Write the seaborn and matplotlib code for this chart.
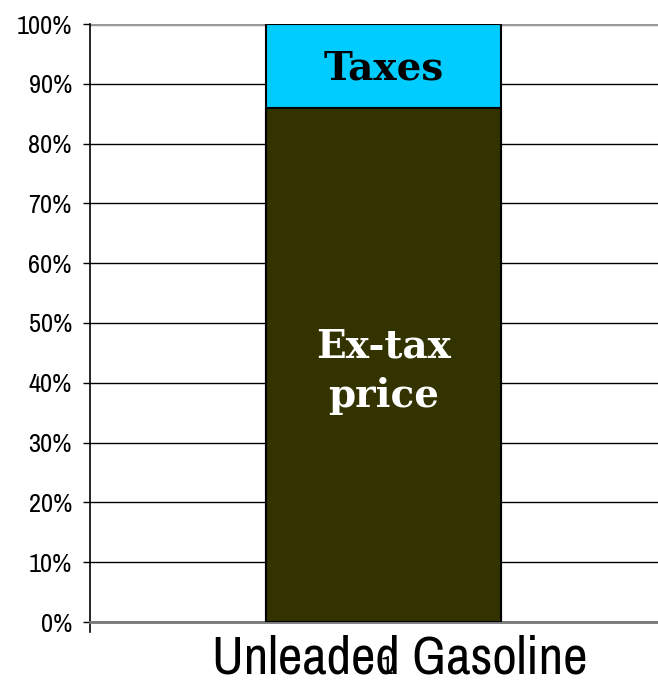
import matplotlib
matplotlib.use("Agg")
import matplotlib.pyplot as plt
import matplotlib.transforms as mtransforms
import seaborn as sns
import pandas as pd
from matplotlib.font_manager import fontManager

categories = ["Unleaded Gasoline"]
ex_tax = [86]
taxes = [14]
yticks = [0, 10, 20, 30, 40, 50, 60, 70, 80, 90, 100]
ytick_labels = [f"{v}%" for v in yticks]

# pick a narrow sans font if one is installed
narrow = None
stretch = "normal"
for f in fontManager.ttflist:
    n = f.name
    if ("Narrow" in n or "Condensed" in n) and "Mono" not in n and "Serif" not in n:
        narrow = n
        break
if narrow is None:
    for f in fontManager.ttflist:
        st = f.stretch
        if isinstance(st, str) and "condensed" in st and "Mono" not in f.name and "Serif" not in f.name:
            narrow = f.name
            stretch = st
            break
if narrow is None:
    sans = "Liberation Sans"
    tick_fs, cat_fs, cat_pad = 16, 31, 13
else:
    sans = narrow
    tick_fs, cat_fs, cat_pad = 19, 38.5, 9

sns.set_style("white")
plt.rcParams["font.family"] = [sans, "DejaVu Sans"]
plt.rcParams["font.stretch"] = stretch
plt.rcParams["text.color"] = "black"
plt.rcParams["xtick.color"] = "black"
plt.rcParams["ytick.color"] = "black"

fig = plt.figure(figsize=(6.58, 6.88), dpi=100)
ax = fig.add_axes([90/658, (688-622)/688, 568/658, 598/688])

df = pd.DataFrame({"cat": categories, "ex": ex_tax,
                   "tot": [a + b for a, b in zip(ex_tax, taxes)]})
sns.barplot(data=df, x="cat", y="tot", color="#00CCFF", saturation=1, edgecolor="black",
            linewidth=1.5, width=0.414, ax=ax, zorder=3)
sns.barplot(data=df, x="cat", y="ex", color="#333300", saturation=1, edgecolor="black",
            linewidth=1.5, width=0.414, ax=ax, zorder=4)

ax.set_ylim(0, 100)
ax.set_xlim(-0.517, 0.483)
ax.set_yticks(yticks)
ax.set_yticklabels(ytick_labels, fontsize=tick_fs, color="black")
ax.yaxis.grid(True, color="black", linewidth=1.0, zorder=0)
ax.set_axisbelow(True)
ax.tick_params(axis="y", direction="out", length=5, width=1, color="black", left=True, pad=8)
ax.set_xticks([0])
ax.set_xticklabels(categories, fontsize=cat_fs, color="black")
ax.tick_params(axis="x", length=0, pad=cat_pad)
offset = mtransforms.ScaledTranslation(16/100, 0, fig.dpi_scale_trans)
for lbl in ax.get_xticklabels():
    lbl.set_transform(lbl.get_transform() + offset)
ax.set_xlabel("")
ax.set_ylabel("")

for s in ["top", "right"]:
    ax.spines[s].set_visible(False)
ax.spines["left"].set_color("black")
ax.spines["left"].set_linewidth(1.2)
ax.spines["left"].set_bounds(-1.7, 100)
ax.spines["bottom"].set_color("#777777")
ax.spines["bottom"].set_linewidth(2)
ax.axhline(100, color="#999999", linewidth=2.5, zorder=1)

ax.text(0, 90.8, "Taxes", ha="center", va="baseline",
        fontsize=28, fontweight="bold", family="DejaVu Serif", color="black", zorder=6)
ax.text(0, 44.3, "Ex-tax", ha="center", va="baseline",
        fontsize=28, fontweight="bold", family="DejaVu Serif", color="white", zorder=6)
ax.text(0, 35.95, "price", ha="center", va="baseline",
        fontsize=28, fontweight="bold", family="DejaVu Serif", color="white", zorder=6)
ax.text(0.006, -7.5, "1", ha="center", va="center", fontsize=19, color="black",
        zorder=6, clip_on=False)

fig.savefig("out.png", dpi=100)
